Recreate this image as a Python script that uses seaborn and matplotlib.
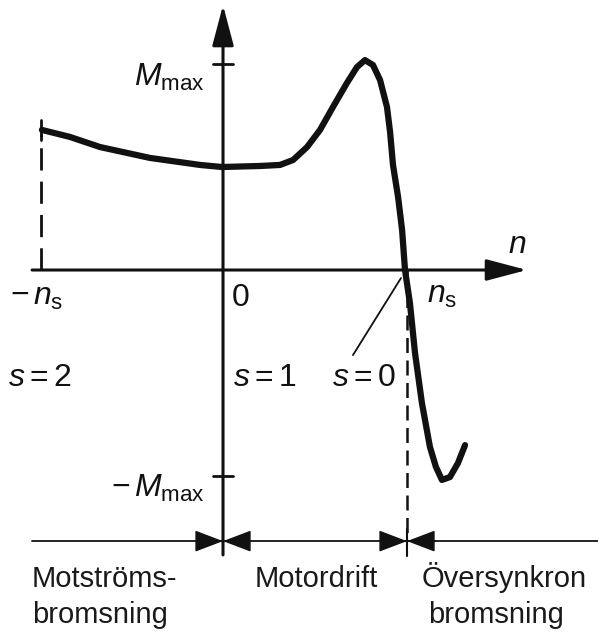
import matplotlib
matplotlib.use("Agg")
import matplotlib.pyplot as plt
import seaborn as sns
import pandas as pd

# Momentkurva för asynkronmaskin: varvtal n i enheter av n_s, moment M i enheter av M_max
n_varv = [-0.995, -0.841, -0.676, -0.401, -0.126, -0.005, 0.203, 0.313, 0.385, 0.462,
          0.533, 0.604, 0.681, 0.736, 0.780, 0.824, 0.863, 0.901, 0.918, 0.934,
          0.962, 0.984, 1.000, 1.027, 1.055, 1.093, 1.137, 1.170, 1.203, 1.247,
          1.291, 1.330]
moment = [0.680, 0.646, 0.597, 0.544, 0.510, 0.500, 0.505, 0.510, 0.534, 0.597,
          0.680, 0.791, 0.908, 0.985, 1.019, 0.995, 0.922, 0.791, 0.670, 0.510,
          0.354, 0.194, 0.000, -0.160, -0.403, -0.646, -0.859, -0.956, -1.019, -1.005,
          -0.937, -0.850]

omraden = ["Motströms-\nbromsning", "Motordrift", "Översynkron\nbromsning"]
eftersläpning = ["$s = 2$", "$s = 1$", "$s = 0$"]

kurva = pd.DataFrame({"n": n_varv, "M": moment})

sns.set_style("white")
plt.rcParams["font.family"] = ["Liberation Sans", "DejaVu Sans"]
plt.rcParams["mathtext.fontset"] = "custom"
plt.rcParams["mathtext.rm"] = "Liberation Sans"
plt.rcParams["mathtext.it"] = "Liberation Sans:italic"
plt.rcParams["mathtext.bf"] = "Liberation Sans:bold"

svart = "#111111"
fs = 21     # områdestext
fm = 23     # formler

fig = plt.figure(figsize=(5.98, 6.40), dpi=100)
ax = fig.add_axes([0, 0, 1, 1])
ax.set_xlim(-1.2253, 2.0604)
ax.set_ylim(-1.796, 1.3107)
ax.axis("off")

# axlar med pilar
pil = dict(arrowstyle="-|>,head_length=1.25,head_width=0.33", color=svart, lw=2.2,
           shrinkA=0, shrinkB=0, mutation_scale=20)
ax.annotate("", xy=(1.670, 0), xytext=(-1.049, 0), arrowprops=pil)
ax.annotate("", xy=(0, 1.286), xytext=(0, -1.383), arrowprops=pil)

# tick-markeringar
ax.plot([-0.055, 0.055], [1, 1], color=svart, lw=2)
ax.plot([-0.055, 0.055], [-1, -1], color=svart, lw=2)
ax.plot([-1, -1], [0.63, 0.73], color=svart, lw=2)

# streckade linjer vid -n_s och n_s
ax.plot([-1, -1], [0, 0.66], color=svart, lw=2, ls=(0, (8, 4)))
ax.plot([1.011, 1.011], [0, -1.316], color=svart, lw=1.8, ls=(0, (6, 3)))

# momentkurvan
sns.lineplot(data=kurva, x="n", y="M", sort=False, color=svart, lw=4.5, ax=ax,
             solid_capstyle="round", solid_joinstyle="round")

# hänvisningslinje för s = 0
ax.plot([0.978, 0.714], [-0.039, -0.413], color=svart, lw=1.3)

# områdeslinje längst ner
yb = -1.316
ax.plot([-1.049, 2.06], [yb, yb], color=svart, lw=1.3)
ax.plot([1.011, 1.011], [-1.257, -1.388], color=svart, lw=1.5)
liten = dict(arrowstyle="-|>,head_length=1.0,head_width=0.38", color=svart, lw=1,
             shrinkA=0, shrinkB=0, mutation_scale=18)
for spets, bas in [(0, -0.143), (0, 0.148), (1.011, 0.863), (1.011, 1.170)]:
    ax.annotate("", xy=(spets, yb), xytext=(bas, yb), arrowprops=liten)

# axeletiketter
ax.text(-1.17, -0.170, r"$-\,n_{\mathrm{s}}$", fontsize=fm, ha="left", va="baseline", color=svart)
ax.text(0.049, -0.175, "0", fontsize=fm, ha="left", va="baseline", color=svart)
ax.text(1.12, -0.160, r"$n_{\mathrm{s}}$", fontsize=fm, ha="left", va="baseline", color=svart)
ax.text(1.566, 0.0825, r"$n$", fontsize=fm, ha="left", va="baseline", color=svart)
ax.text(-0.099, 0.893, r"$M_{\mathrm{max}}$", fontsize=fm, ha="right", va="baseline", color=svart)
ax.text(-0.099, -1.102, r"$-\,M_{\mathrm{max}}$", fontsize=fm, ha="right", va="baseline", color=svart)

# eftersläpning
for xpos, txt in zip([-1.181, 0.055, 0.599], eftersläpning):
    ax.text(xpos, -0.563, txt, fontsize=fm, ha="left", va="baseline", color=svart)

# driftområden
ax.text(-1.049, -1.539, omraden[0].split("\n")[0], fontsize=fs, ha="left", va="baseline", color="#1a1a1a")
ax.text(-1.049, -1.714, omraden[0].split("\n")[1], fontsize=fs, ha="left", va="baseline", color="#1a1a1a")
ax.text(0.176, -1.539, omraden[1], fontsize=fs, ha="left", va="baseline", color="#1a1a1a")
ax.text(1.093, -1.539, omraden[2].split("\n")[0], fontsize=fs, ha="left", va="baseline", color="#1a1a1a")
ax.text(1.126, -1.714, omraden[2].split("\n")[1], fontsize=fs, ha="left", va="baseline", color="#1a1a1a")

fig.savefig("out.png", dpi=100)
